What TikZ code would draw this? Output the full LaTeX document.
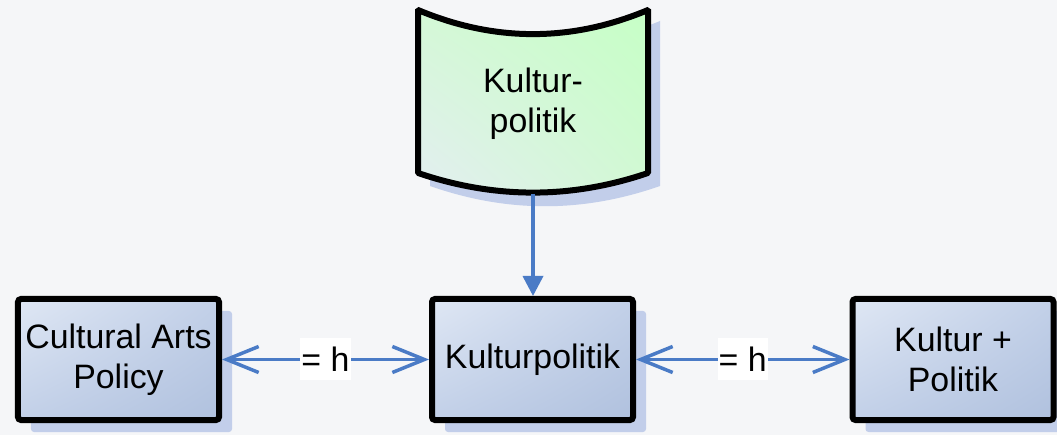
\documentclass[tikz,border=0pt]{standalone}
\usepackage{fontspec}
\setmainfont{Liberation Sans}
\usetikzlibrary{arrows.meta,shadings,shadows}
\definecolor{bg}{HTML}{F5F6F8}
\definecolor{arr}{HTML}{4A7BC6}
\definecolor{shd}{HTML}{C2CEEA}
\definecolor{bxul}{HTML}{DFE7F4}
\definecolor{bxur}{HTML}{C2D0E8}
\definecolor{bxll}{HTML}{C2D0E8}
\definecolor{bxlr}{HTML}{B0C1DE}
\definecolor{gul}{HTML}{D4F8D6}
\definecolor{gur}{HTML}{C6FFC6}
\definecolor{gll}{HTML}{E4EEF2}
\definecolor{glr}{HTML}{D2F8D4}
\begin{document}
\begin{tikzpicture}[x=1bp,y=-1bp,
  txt/.style={font=\fontsize{34}{40}\selectfont, align=center},
  box/.style={txt, draw=black, line width=6bp, rounded corners=3bp,
    minimum width=201bp, minimum height=121bp, inner sep=0pt,
    upper left=bxul, upper right=bxur, lower left=bxll, lower right=bxlr,
    drop shadow={shadow xshift=13bp, shadow yshift=-12bp, fill=shd, opacity=1}},
  harr/.style={draw=arr, line width=3.5bp,
    {Straight Barb[length=32bp,width=26bp,line width=3.5bp]}-{Straight Barb[length=32bp,width=26bp,line width=3.5bp]}},
  varr/.style={draw=arr, line width=3.5bp, -{Triangle[length=20bp,width=20bp]}},
  eqlab/.style={txt, fill=white, inner xsep=1bp, inner ysep=0pt, minimum height=42bp}
]
\useasboundingbox[fill=bg] (0,0) rectangle (1057,435);

% top shape shadow
\fill[shd] (430,21) .. controls (507,53) and (583,53) .. (660,21)
  -- (660,186) .. controls (583,213) and (507,213) .. (430,186) -- cycle;
% top shape
\draw[line width=6bp, rounded corners=1bp,
      upper left=gul, upper right=gur, lower left=gll, lower right=glr]
  (418,10) .. controls (495,42) and (571,42) .. (648,10)
  -- (648,173) .. controls (571,199) and (495,199) .. (418,173) -- cycle;
\node[txt] (kp) at (533,104) {Kultur-\\politik};
\coordinate (kpb) at (533,194);

% boxes
\node[box] (cap) at (118.5,359.5) {Cultural Arts\\Policy};
\node[box] (mid) at (532.5,359.5) {Kulturpolitik};
\node[box] (kup) at (953,359.5) {Kultur +\\Politik};

% connectors
\draw[varr] (kpb) -- (kpb |- mid.north);
\draw[harr] (cap.east) -- node[eqlab] (l1) {= h} (mid.west);
\draw[harr] (mid.east) -- node[eqlab] (l2) {= h} (kup.west);
\end{tikzpicture}
\end{document}
